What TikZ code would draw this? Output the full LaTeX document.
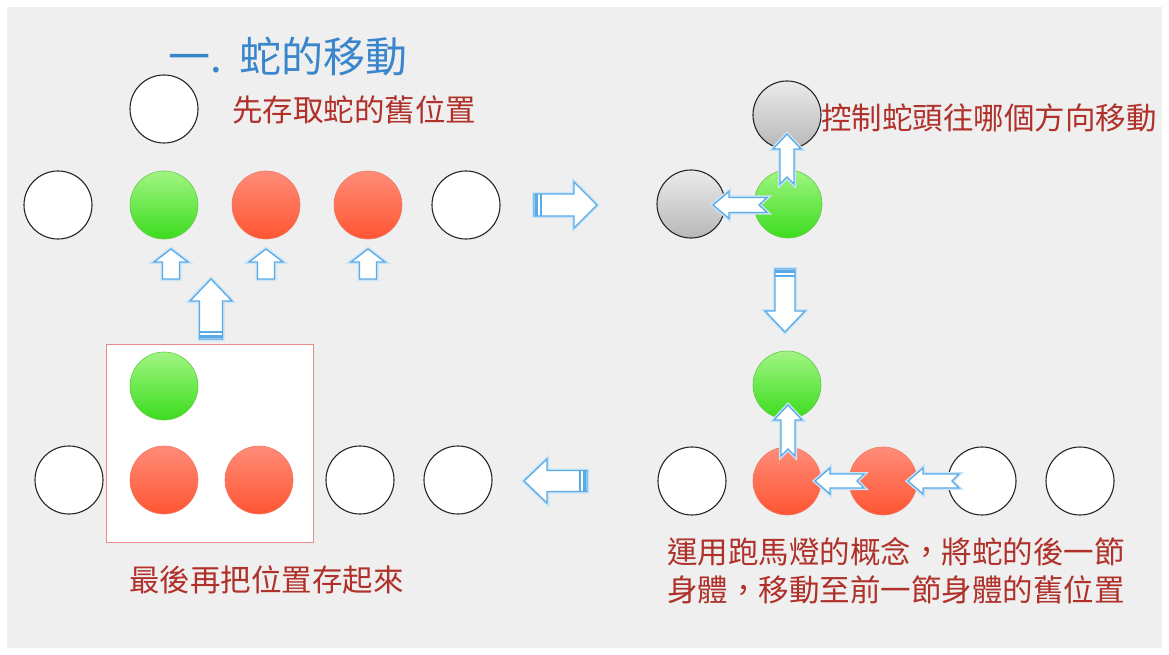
\documentclass[tikz,border=0pt]{standalone}
\usepackage{fontspec}
\newfontfamily\cjk{Noto Sans CJK TC}
\usetikzlibrary{calc}
\definecolor{bgray}{HTML}{EFEFEF}
\definecolor{redtxt}{HTML}{B0302A}
\definecolor{bluetxt}{HTML}{3A86CC}
\definecolor{arrblue}{HTML}{5AAAE6}
\definecolor{arrglow}{HTML}{C8E4F8}
\definecolor{boxred}{HTML}{E88A8A}
\tikzset{
  ball/.style={circle,minimum size=68pt,inner sep=0pt,line width=1.1pt},
  whiteball/.style={ball,fill=white,draw=black!85},
  greenball/.style={ball,top color={rgb,255:red,160;green,245;blue,130},bottom color={rgb,255:red,60;green,220;blue,30},draw={rgb,255:red,100;green,200;blue,70},line width=0.6pt},
  redball/.style={ball,top color={rgb,255:red,255;green,140;blue,120},bottom color={rgb,255:red,255;green,85;blue,50},draw={rgb,255:red,240;green,120;blue,100},line width=0.6pt},
  grayball/.style={ball,top color=black!8,bottom color=black!28,draw=black!85},
  blk/.style={fill=white,draw=arrblue,line width=1.3pt,line join=miter,
     preaction={draw=arrglow,line width=4pt}},
  stripe/.style={draw=arrblue,line width=2.6pt},
  cjktext/.style={font=\cjk\fontsize{30.5}{38}\selectfont,text=redtxt,inner sep=0pt},
}
% #1 tail, #2 tip, #3 shaft half width, #4 head half width, #5 head length, #6 notch depth
\newcommand\blockarr[6]{%
  \coordinate (bH) at ($(#2)!#5!(#1)$);
  \coordinate (bN) at ($(#1)!#6!(#2)$);
  \path[blk] (#2) -- ($(bH)!#4!90:(#2)$) -- ($(bH)!#3!90:(#2)$)
     -- ($(#1)!#3!90:(#2)$) -- (bN) -- ($(#1)!#3!-90:(#2)$)
     -- ($(bH)!#3!-90:(#2)$) -- ($(bH)!#4!-90:(#2)$) -- cycle;
}
% stripes near tail: #1 tail, #2 tip, #3 shaft half width
\newcommand\tailstripes[3]{%
  \coordinate (sA) at ($(#1)!2.5pt!(#2)$);
  \coordinate (sB) at ($(#1)!7pt!(#2)$);
  \draw[stripe] ($(sA)!#3!90:(#2)$) -- ($(sA)!#3!-90:(#2)$);
  \draw[stripe,line width=1.4pt] ($(sB)!#3!90:(#2)$) -- ($(sB)!#3!-90:(#2)$);
}
\begin{document}
\begin{tikzpicture}[x=1pt,y=-1pt]
\useasboundingbox (0,0) rectangle (1169,655);
\fill[white] (0,0) rectangle (1169,655);
\fill[bgray] (7,7) rectangle (1162,648);

% title
\node[anchor=west,inner sep=0pt,font=\cjk\fontsize{42}{48}\selectfont,text=bluetxt] (title) at (168,57) {一.\hspace{18pt}蛇的移動};

% ---------- top-left panel ----------
\node[whiteball] (tl0) at (164,109) {};
\node[cjktext,anchor=west] (t1) at (232,110) {先存取蛇的舊位置};
\node[whiteball] (a1) at (58,205) {};
\node[greenball] (a2) at (164,205) {};
\node[redball] (a3) at (266,205) {};
\node[redball] (a4) at (368,205) {};
\node[whiteball] (a5) at (466,205) {};

% small up arrows
\coordinate (u1t) at (171,279); \coordinate (u1h) at (171,249);
\coordinate (u2t) at (266,279); \coordinate (u2h) at (266,249);
\coordinate (u3t) at (368,279); \coordinate (u3h) at (368,249);
\blockarr{u1t}{u1h}{8.5pt}{17pt}{13pt}{0pt}
\blockarr{u2t}{u2h}{8.5pt}{17pt}{13pt}{0pt}
\blockarr{u3t}{u3h}{8.5pt}{17pt}{13pt}{0pt}

% big up arrow with stripes
\coordinate (bu_t) at (211,339); \coordinate (bu_h) at (211,279);
\blockarr{bu_t}{bu_h}{11.5pt}{21pt}{22pt}{0pt}
\tailstripes{bu_t}{bu_h}{11.5pt}

% transition right arrow
\coordinate (r_t) at (534,205); \coordinate (r_h) at (597,205);
\blockarr{r_t}{r_h}{11pt}{23pt}{23pt}{0pt}
\tailstripes{r_t}{r_h}{11pt}

% ---------- top-right panel ----------
\node[grayball] (g1) at (787,115) {};
\node[grayball] (g2) at (691,204) {};
\node[greenball] (h1) at (788,204) {};
\node[cjktext,anchor=west] (t2) at (821,118) {控制蛇頭往哪個方向移動};
\coordinate (nu_t) at (787,184); \coordinate (nu_h) at (787,134);
\blockarr{nu_t}{nu_h}{7pt}{14pt}{15pt}{7pt}
\coordinate (nl_t) at (767,205); \coordinate (nl_h) at (713,205);
\blockarr{nl_t}{nl_h}{7.5pt}{13.5pt}{16pt}{8pt}

% transition down arrow
\coordinate (d_t) at (785,269); \coordinate (d_h) at (785,332);
\blockarr{d_t}{d_h}{10pt}{20pt}{21pt}{0pt}
\tailstripes{d_t}{d_h}{10pt}

% ---------- bottom-right panel ----------
\node[greenball] (c0) at (787,385) {};
\node[whiteball] (c1) at (692,481) {};
\node[redball] (c2) at (787,481) {};
\node[redball] (c3) at (883,481) {};
\node[whiteball] (c4) at (982,481) {};
\node[whiteball] (c5) at (1080,481) {};
\coordinate (bu2_t) at (788,456); \coordinate (bu2_h) at (788,405);
\blockarr{bu2_t}{bu2_h}{7pt}{14pt}{15pt}{7pt}
\coordinate (bl1_t) at (864,481); \coordinate (bl1_h) at (815,481);
\blockarr{bl1_t}{bl1_h}{7pt}{13pt}{15pt}{7pt}
\coordinate (bl2_t) at (959,481); \coordinate (bl2_h) at (908,481);
\blockarr{bl2_t}{bl2_h}{7pt}{13pt}{15pt}{7pt}
\node[cjktext,anchor=west,align=left] (t3) at (667,571) {運用跑馬燈的概念，將蛇的後一節\\身體，移動至前一節身體的舊位置};

% transition left arrow
\coordinate (l_t) at (587,481); \coordinate (l_h) at (524,481);
\blockarr{l_t}{l_h}{10.5pt}{22pt}{23pt}{0pt}
\tailstripes{l_t}{l_h}{10.5pt}

% ---------- bottom-left panel ----------
\node[draw=boxred,fill=white,line width=1pt,minimum width=207pt,minimum height=198pt,inner sep=0pt] (box) at (209.5,443) {};
\node[greenball] (e0) at (164,386) {};
\node[redball] (e1) at (164,480) {};
\node[redball] (e2) at (259,480) {};
\node[whiteball] (f1) at (69,480) {};
\node[whiteball] (f2) at (360,480) {};
\node[whiteball] (f3) at (458,480) {};
\node[cjktext,anchor=west] (t4) at (129,580) {最後再把位置存起來};
\end{tikzpicture}
\end{document}
